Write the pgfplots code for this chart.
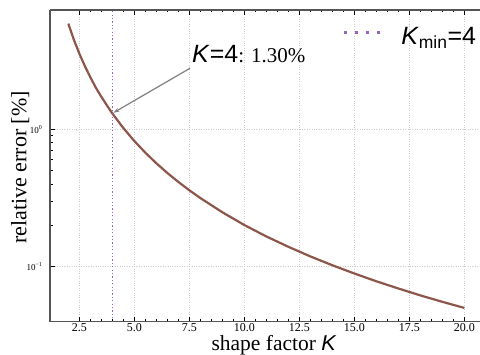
\documentclass[border=0pt]{standalone}
\usepackage{fontspec}
\setmainfont{Liberation Serif}
\setsansfont{Liberation Sans}
\usepackage{pgfplots}
\pgfplotsset{compat=1.18}
\usetikzlibrary{arrows.meta}
\definecolor{cbrown}{HTML}{8C564B}
\definecolor{cpurple}{HTML}{9467BD}
\definecolor{cgrid}{HTML}{CCCCCC}
\definecolor{caxis}{HTML}{555555}
\begin{document}
\begin{tikzpicture}
\begin{axis}[
  name=ax,
  scale only axis,
  width=430pt, height=311.7pt,
  xmin=1.168, xmax=20.71,
  ymode=log, ymin=0.03978, ymax=7.384,
  axis x line*=box, axis y line*=left,
  x axis line style={-, caxis, line width=1.3pt},
  y axis line style={-, caxis, line width=2pt},
  tick align=inside,
  major tick length=5pt, minor tick length=2.5pt,
  every tick/.style={black, line width=0.6pt},
  xtick={2.5,5,7.5,10,12.5,15,17.5,20},
  xticklabels={2.5,5.0,7.5,10.0,12.5,15.0,17.5,20.0},
  minor x tick num=4,
  ytick={0.1,1},
  yticklabels={10\textsuperscript{−1},10\textsuperscript{0}},
  xticklabel style={font=\fontsize{12}{12}\selectfont, yshift=1.5pt},
  yticklabel style={font=\fontsize{9}{9}\selectfont, xshift=-4pt},
  grid=major,
  major grid style={cgrid, dotted, line width=0.6pt},
  xlabel={shape factor \textsf{\textit{K}}},
  ylabel={relative error [\%]},
  every axis x label/.style={at={(axis description cs:0.521,-0.0925)}, anchor=base, font=\fontsize{21.5}{21.5}\selectfont},
  every axis y label/.style={at={(axis description cs:-0.0547,0.4947)}, rotate=90, anchor=base, font=\fontsize{22}{22}\selectfont},
  legend style={at={(axis description cs:0.996,0.952)}, anchor=north east, draw=none, fill=none, inner sep=0pt, font=\fontsize{25}{25}\selectfont\sffamily,
    /tikz/every odd column/.append style={column sep=18pt}},
  legend image code/.code={\draw[#1, line width=3.3pt, dash pattern=on 3.3pt off 7.7pt] (0pt,4pt) -- (36pt,4pt);},
  legend cell align=left,
]
\addplot[cbrown, line width=2.2pt, forget plot] coordinates {
(2,5.88) (2.25,4.50) (2.5,3.56) (2.75,2.89) (3,2.395) (3.25,2.01) (3.5,1.726)
(3.75,1.497) (4,1.305) (4.5,1.022) (5,0.822) (5.5,0.676) (6,0.566) (6.5,0.481)
(7,0.414) (7.5,0.360) (8,0.316) (9,0.249) (10,0.201) (11,0.166) (12,0.1396)
(13,0.1188) (14,0.1024) (15,0.0892) (16,0.0783) (17,0.0694) (18,0.0618)
(19,0.0555) (20,0.0501)
};
\addplot[cpurple, line width=1.2pt, dash pattern=on 1.2pt off 2.2pt] coordinates {(4,0.03978) (4,7.384)};
\addlegendentry{\textit{K}\textsubscript{min}=4}
\draw[-{Stealth[length=6pt,width=4pt]}, gray, line width=1.2pt] (axis cs:7.53,2.78) -- (axis cs:4.05,1.32);
\node[anchor=base west, inner sep=0pt] at (axis cs:7.62,3.04) {{\fontsize{25}{25}\sffamily\textit{K}=4}{\fontsize{21}{21}\selectfont: 1.30\%}};
\end{axis}
\pgfresetboundingbox
\useasboundingbox ([xshift=-50pt,yshift=-32.3pt]ax.south west) rectangle ([yshift=10pt]ax.north east);
\end{tikzpicture}
\end{document}
